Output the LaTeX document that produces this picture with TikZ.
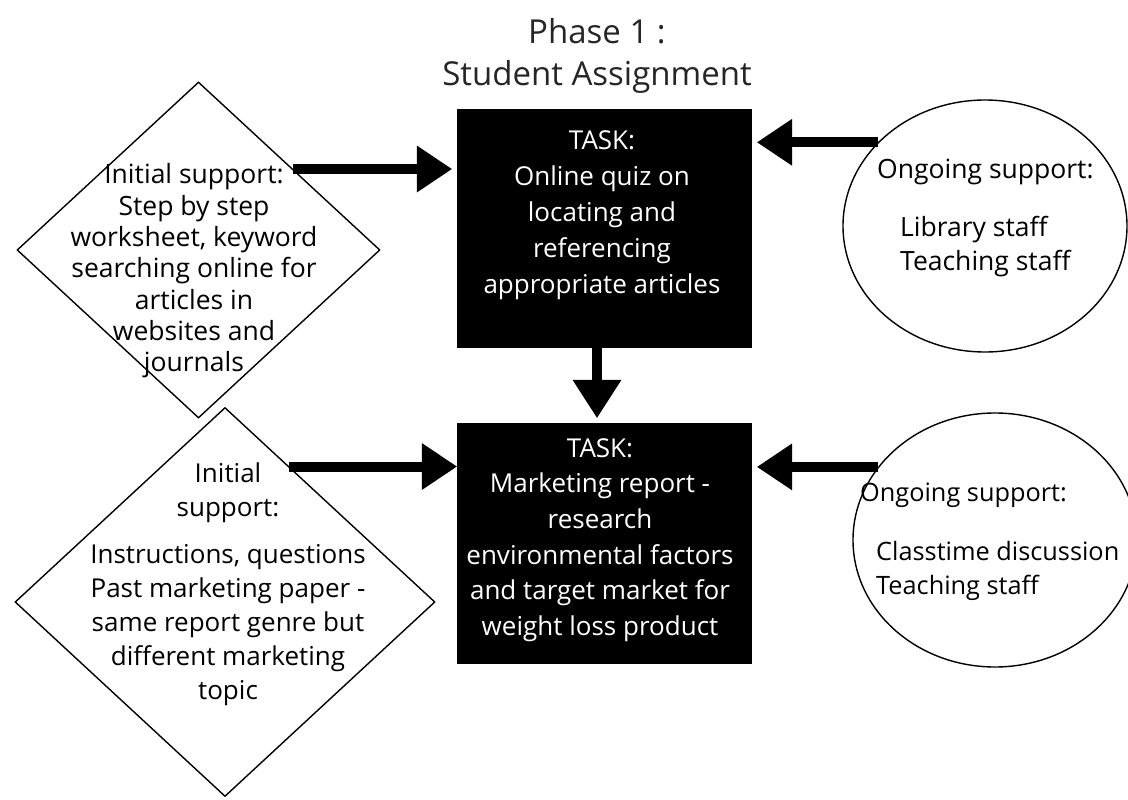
\documentclass[tikz,border=0pt]{standalone}
\usepackage{fontspec}
\setmainfont{Open Sans}
\usetikzlibrary{arrows.meta,shapes.geometric,calc}
\begin{document}
\begin{tikzpicture}[x=1pt,y=-1pt,
  thinline/.style={draw=black,line width=1.4pt},
  diam/.style={diamond,thinline,inner sep=0pt},
  oval/.style={ellipse,thinline,inner sep=0pt},
  taskbox/.style={fill=black,draw=black,inner sep=0pt,minimum width=294pt,minimum height=238pt},
  tasktext/.style={text=white,align=center,inner sep=0pt,font=\fontsize{26}{36}\selectfont},
  diamtext/.style={align=center,inner sep=0pt,font=\fontsize{26.5}{31.3}\selectfont},
  ovaltext/.style={align=left,anchor=west,inner sep=0pt,font=\fontsize{26.5}{34}\selectfont},
  titletext/.style={align=center,inner sep=0pt,text=black!85,font=\fontsize{33}{42}\selectfont},
  bigarrow/.style={line width=10pt,-{Triangle[length=35pt,width=47pt,line width=0pt]}}
]
\useasboundingbox (0,0) rectangle (1128,800);
\fill[white] (0,0) rectangle (1128,800);
\clip (0,0) rectangle (1128,800);

% shapes
\node[diam,minimum width=363pt,minimum height=336pt] (d1) at (198.5,250) {};
\node[diam,minimum width=420pt,minimum height=389pt] (d2) at (225,602) {};
\node[taskbox] (b1) at (604,228) {};
\node[taskbox,minimum height=240pt] (b2) at (604,543) {};
\node[oval,minimum width=284pt,minimum height=252pt] (e1) at (985,226) {};
\node[oval,minimum width=284pt,minimum height=254pt] (e2) at (995,540) {};

% texts
\node[titletext] (title) at (597,56) {Phase 1 :\\Student Assignment};
\node[tasktext] (t1) at (602,215) {TASK:\\Online quiz on\\locating and\\referencing\\appropriate articles};
\node[tasktext,font=\fontsize{26}{35.6}\selectfont] (t2) at (600,540) {TASK:\\Marketing report -\\research\\environmental factors\\and target market for\\weight loss product};
\node[diamtext] (dt1) at (194,271) {Initial support:\\Step by step\\worksheet, keyword\\searching online for\\articles in\\websites and\\journals};
\node[diamtext,font=\fontsize{26}{34}\selectfont] (dt2) at (228,584) {Initial\\support:\\[13pt]Instructions, questions\\Past marketing paper -\\same report genre but\\different marketing\hspace*{30pt}\\topic};
\node[ovaltext] (et1) at (877,218) {Ongoing support:\\[24pt]\hspace*{23pt}Library staff\\\hspace*{23pt}Teaching staff};
\node[ovaltext,font=\fontsize{25.3}{34}\selectfont] (et2) at (860,542) {Ongoing support:\\[25pt]\hspace*{16pt}Classtime discussion\\\hspace*{16pt}Teaching staff};

% connectors
\coordinate (p1) at ($(d1.north)!0.52!(d1.east)$);
\coordinate (p2) at ($(d2.north)!0.306!(d2.east)$);
\draw[bigarrow,shorten >=5pt] (p1) -- (p1 -| b1.west);
\draw[bigarrow] (p2) -- (p2 -| b2.west);
\draw[bigarrow,shorten >=6pt] (e1.142) -- (e1.142 -| b1.east);
\draw[bigarrow,shorten >=6pt] (e2.148) -- (e2.148 -| b2.east);
\coordinate (q1) at ($(b1.south)+(-7,0)$);
\coordinate (q2) at ($(b2.north)+(-7,0)$);
\draw[line width=10pt,-{Triangle[length=38pt,width=49pt,line width=0pt]},shorten >=5pt] (q1) -- (q2);
\end{tikzpicture}
\end{document}
